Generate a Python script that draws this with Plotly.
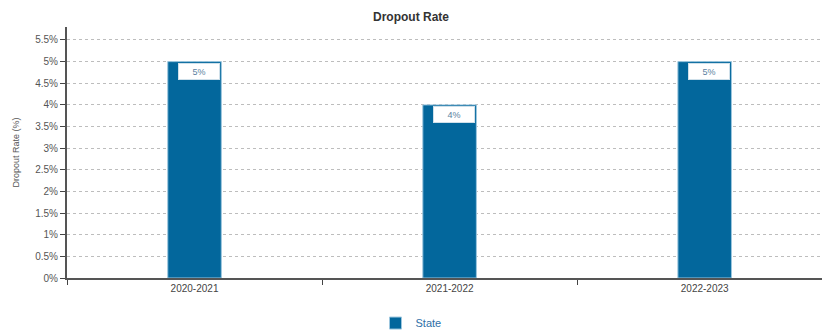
import plotly.graph_objects as go

# Dropout rate by school year
years = ["2020-2021", "2021-2022", "2022-2023"]
state_rate = [5, 4, 5]
series_name = "State"

y_ticks = [0, 0.5, 1, 1.5, 2, 2.5, 3, 3.5, 4, 4.5, 5, 5.5]
y_tick_text = ["0%", "0.5%", "1%", "1.5%", "2%", "2.5%", "3%", "3.5%", "4%", "4.5%", "5%", "5.5%"]

bar_color = "#03679C"

fig = go.Figure()
fig.add_trace(go.Bar(
    x=years,
    y=state_rate,
    name=series_name,
    width=0.21,
    marker=dict(color=bar_color, line=dict(color="#9cc6de", width=1)),
))

# value labels in white boxes at the top of each bar
for yr, v in zip(years, state_rate):
    fig.add_annotation(
        x=yr, y=v, text=f"{v}%", showarrow=False,
        xanchor="center", yanchor="top", xshift=4, yshift=-1,
        bgcolor="white", bordercolor="#cfe0ea", borderwidth=1,
        width=38, height=13,
        font=dict(family="Liberation Sans, Arial", size=9, color="#5a7fa0"),
    )

fig.update_layout(
    width=822, height=331,
    margin=dict(l=67, r=0, t=27, b=53, autoexpand=False),
    paper_bgcolor="white", plot_bgcolor="white",
    font=dict(family="Liberation Sans, Arial", size=10, color="#555"),
    title=dict(text="<b>Dropout Rate</b>", x=0.5, xanchor="center", y=0.948, yanchor="middle",
               font=dict(family="Liberation Sans, Arial", size=12, color="#333")),
    showlegend=True,
    legend=dict(orientation="h", xref="container", x=0.5, xanchor="center",
                yref="container", y=0.024, yanchor="middle",
                font=dict(size=11, color="#2e6fa7")),
)
fig.update_xaxes(
    range=[-0.5, 2.46], showgrid=False, tickson="boundaries",
    ticks="outside", ticklen=5, tickcolor="#444",
    showline=True, linecolor="#555", linewidth=2,
    tickfont=dict(size=10, color="#444"),
)
fig.update_yaxes(
    range=[0, 5.8], tickvals=y_ticks, ticktext=y_tick_text,
    ticks="outside", ticklen=5, tickcolor="#444",
    showline=True, linecolor="#555", linewidth=2,
    showgrid=True, gridcolor="#bdbdbd", griddash="3px,3px", gridwidth=1,
    zeroline=False,
    tickfont=dict(size=10, color="#555"),
    title=dict(text="Dropout Rate (%)", font=dict(size=9, color="#555"), standoff=14),
)

fig.write_html("out.html")
